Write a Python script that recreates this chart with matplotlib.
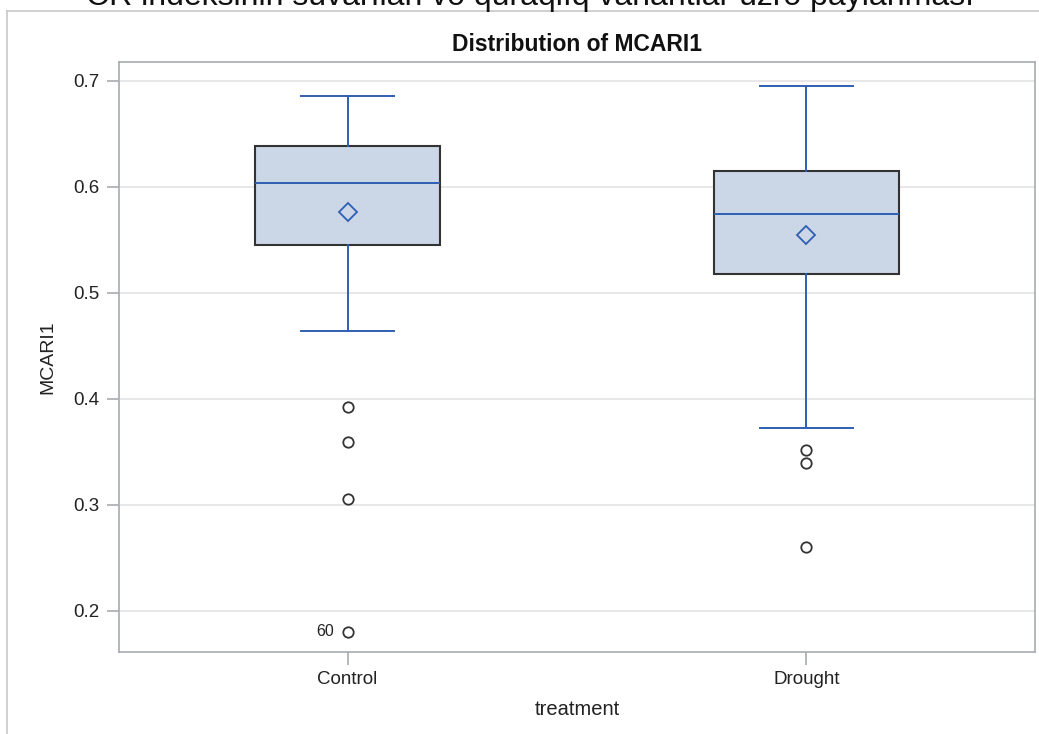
import matplotlib
matplotlib.use("Agg")
import matplotlib.pyplot as plt
from matplotlib.lines import Line2D

plt.rcParams['font.family'] = ['Liberation Sans', 'DejaVu Sans']

# Summary statistics of MCARI1 per treatment
treatments = ["Control", "Drought"]
whisker_low = [0.4642, 0.3726]
q1 = [0.5453, 0.5179]
median = [0.6038, 0.5745]
q3 = [0.6387, 0.6151]
whisker_high = [0.6858, 0.6953]
mean = [0.5764, 0.5547]
outliers = [[0.3925, 0.3594, 0.3057, 0.1802], [0.3519, 0.3396, 0.2604]]
outlier_label = "60"
yticks = [0.2, 0.3, 0.4, 0.5, 0.6, 0.7]

W, H = 1039, 734
fig = plt.figure(figsize=(W / 100, H / 100), dpi=100)

def fx(px):
    return px / W

def fy(py):
    return 1 - py / H

ax = fig.add_axes([fx(119), fy(652), fx(1035) - fx(119), fy(62) - fy(652)])

blue = "#2f5fb3"
fill = "#cbd6e6"
edge = "#333333"

stats = []
for i, name in enumerate(treatments):
    stats.append(dict(label=name, whislo=whisker_low[i], q1=q1[i], med=median[i],
                      q3=q3[i], whishi=whisker_high[i], mean=mean[i], fliers=outliers[i]))

ax.bxp(stats, positions=range(len(treatments)), widths=0.402, patch_artist=True,
       showmeans=True, showfliers=True,
       boxprops=dict(facecolor=fill, edgecolor=edge, linewidth=1.5),
       medianprops=dict(color=blue, linewidth=1.4),
       whiskerprops=dict(color=blue, linewidth=1.4),
       capprops=dict(color=blue, linewidth=1.4),
       capwidths=0.201,
       meanprops=dict(marker="D", markerfacecolor="none", markeredgecolor=blue,
                      markersize=9, markeredgewidth=1.3),
       flierprops=dict(marker="o", markerfacecolor="none", markeredgecolor="#333333",
                       markersize=7.5, markeredgewidth=1.3))

# ID label of the lowest control outlier
ax.annotate(outlier_label, xy=(0, min(outliers[0])), xytext=(-10, 0),
            textcoords="offset points", ha="right", va="center", fontsize=11.5,
            color="#222222")

ax.set_xlim(-0.498, 1.498)
ax.set_ylim(0.1613, 0.7179)
ax.set_yticks(yticks)
ax.set_yticklabels([f"{t:.1f}" for t in yticks])
ax.set_xticks(range(len(treatments)))
ax.set_xticklabels(treatments)
ax.yaxis.grid(True, color="#e6e6e6", linewidth=1.3)
ax.set_axisbelow(True)

for s in ax.spines.values():
    s.set_color("#a7abb0")
    s.set_linewidth(1.2)
ax.tick_params(axis="both", colors="#a7abb0", length=9, width=1.2,
               labelcolor="#222222", labelsize=13.5, pad=5)

ax.set_xlabel("treatment", fontsize=14.5, color="#222222", labelpad=8)
ax.set_ylabel("MCARI1", fontsize=14, color="#222222", labelpad=12)
ax.set_title("Distribution of MCARI1", fontsize=16.5, fontweight="bold",
             color="#111111", pad=8)

# Outer panel border
fig.add_artist(Line2D([fx(7), fx(7)], [fy(11), 0], color="#c8c8c8", linewidth=1.2))
fig.add_artist(Line2D([fx(7), 1], [fy(11), fy(11)], color="#c8c8c8", linewidth=1.2))

# Page heading above the panel
fig.text(fx(530), fy(5), "CR indeksinin suvarılan və quraqlıq variantlar üzrə paylanması",
         ha="center", va="baseline", fontsize=23, color="#111111")

fig.savefig("out.png", dpi=100)
